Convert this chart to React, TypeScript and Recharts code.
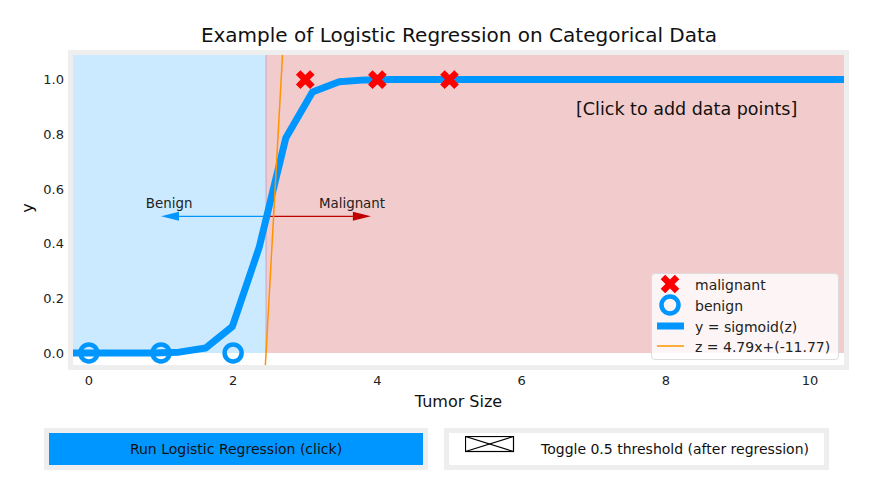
import React from "react";
import {
  ComposedChart,
  Line,
  Scatter,
  XAxis,
  YAxis,
  ReferenceArea,
  ReferenceLine,
  ReferenceDot,
  Legend,
  Label,
} from "recharts";

const FONT = '"DejaVu Sans", Verdana, sans-serif';
const BLUE = "#0096ff";
const RED = "#ff0000";
const DARKRED = "#c00000";
const ORANGE = "#ff9300";

// axes
const xDomain = [-0.22, 10.47];
const yDomain = [-0.044, 1.09];
const xTicks = [0, 2, 4, 6, 8, 10];
const yTicks = [0, 0.2, 0.4, 0.6, 0.8, 1.0];

// fitted sigmoid
const curveX = [
  -0.22, 0.15, 0.52, 0.89, 1.25, 1.62, 1.99, 2.36, 2.73, 3.1, 3.47, 3.83, 4.2,
  4.57, 4.94, 5.31, 5.68, 6.05, 6.42, 6.79, 7.16, 7.52, 7.89, 8.26, 8.63, 9.0,
  9.37, 9.74, 10.1, 10.47,
];
const curveY = [
  0, 0, 0, 0, 0.003, 0.018, 0.097, 0.385, 0.786, 0.955, 0.992, 0.999, 1, 1, 1,
  1, 1, 1, 1, 1, 1, 1, 1, 1, 1, 1, 1, 1, 1, 1,
];

// z = 4.79x + (-11.77)
const zLineX = [2.4, 2.8];
const zLineY = [-0.27, 1.64];

const malignantX = [3, 4, 5];
const malignantY = [1, 1, 1];
const benignX = [0, 1, 2];
const benignY = [0, 0, 0];

const threshold = 2.457;
const arrowY = 0.5;
const benignArrowEnd = 1.0;
const malignantArrowEnd = 3.91;
const annotationText = ["Benign", "Malignant"];
const annotationX = [0.79, 3.19];
const annotationY = [0.53, 0.53];

const zip = (xs: number[], ys: number[]) => xs.map((x, i) => ({ x, y: ys[i] }));

const curveData = zip(curveX, curveY);
const zLineData = zip(zLineX, zLineY);
const malignantData = zip(malignantX, malignantY);
const benignData = zip(benignX, benignY);

const xMarkerPoints = (cx: number, cy: number, a = 10, t = 3.2) => {
  const pts = [
    [t, -a], [t, -t], [a, -t], [a, t], [t, t], [t, a],
    [-t, a], [-t, t], [-a, t], [-a, -t], [-t, -t], [-t, -a],
  ];
  const c = Math.SQRT1_2;
  return pts.map(([x, y]) => `${cx + (x - y) * c},${cy + (x + y) * c}`).join(" ");
};

const arrowShape = (color: string) => (p: any) => {
  const { x1, y1, x2, y2 } = p;
  const dir = Math.sign(x2 - x1);
  const hl = 18;
  const hw = 4.5;
  return (
    <g>
      <line x1={x1} y1={y1} x2={x2 - dir * hl} y2={y2} stroke={color} strokeWidth={1.2} />
      <polygon
        points={`${x2},${y2} ${x2 - dir * hl},${y2 - hw} ${x2 - dir * hl},${y2 + hw}`}
        fill={color}
      />
    </g>
  );
};

const LegendBox = () => {
  const rows = ["malignant", "benign", "y = sigmoid(z)", "z = 4.79x+(-11.77)"];
  const rowY = [11, 32, 53, 73];
  return (
    <div
      style={{
        width: 188,
        height: 87,
        boxSizing: "border-box",
        background: "rgba(255,255,255,0.8)",
        border: "1px solid #dcdcdc",
        borderRadius: 4,
      }}
    >
      <svg width={186} height={85} style={{ display: "block" }}>
        <polygon points={xMarkerPoints(18, rowY[0] - 1)} fill={RED} />
        <circle cx={18} cy={rowY[1] - 1} r={8.5} fill="none" stroke={BLUE} strokeWidth={4.5} />
        <line x1={5} x2={32} y1={rowY[2] - 1} y2={rowY[2] - 1} stroke={BLUE} strokeWidth={7} />
        <line x1={5} x2={32} y1={rowY[3] - 1} y2={rowY[3] - 1} stroke={ORANGE} strokeWidth={1.5} />
        {rows.map((r, i) => (
          <text key={r} x={43} y={rowY[i] + 4.5} fontSize={14} fontFamily={FONT} fill="#222">
            {r}
          </text>
        ))}
      </svg>
    </div>
  );
};

export default function App() {
  return (
    <div
      style={{
        position: "absolute",
        left: 0,
        top: 0,
        width: 882,
        height: 478,
        background: "#fff",
        fontFamily: FONT,
      }}
    >
      <div
        style={{
          position: "absolute",
          left: 159,
          width: 600,
          top: 25,
          fontSize: 20,
          lineHeight: "20px",
          textAlign: "center",
          color: "#111",
          whiteSpace: "nowrap",
        }}
      >
        Example of Logistic Regression on Categorical Data
      </div>

      <div
        style={{
          position: "absolute",
          left: 68,
          top: 50,
          width: 781,
          height: 320,
          boxSizing: "border-box",
          border: "5px solid #eeeeee",
        }}
      />

      <div style={{ position: "absolute", left: 0, top: 0 }}>
        <ComposedChart
          width={882}
          height={478}
          margin={{ top: 55, right: 38, left: 33, bottom: 83 }}
        >
          <XAxis
            type="number"
            dataKey="x"
            domain={xDomain}
            ticks={xTicks}
            allowDataOverflow
            axisLine={false}
            tickLine={false}
            tickMargin={5}
            height={30}
            tick={{ fill: "#222", fontSize: 13, fontFamily: FONT }}
          >
            <Label
              value="Tumor Size"
              position="bottom"
              offset={1}
              style={{ fill: "#111", fontSize: 16, fontFamily: FONT }}
            />
          </XAxis>
          <YAxis
            type="number"
            dataKey="y"
            domain={yDomain}
            ticks={yTicks}
            allowDataOverflow
            axisLine={false}
            tickLine={false}
            tickMargin={3}
            width={40}
            tickFormatter={(v: number) => v.toFixed(1)}
            tick={{ fill: "#222", fontSize: 13, fontFamily: FONT }}
          >
            <Label
              content={(p: any) => {
                const vb = p.viewBox;
                const cx = vb.x - 6;
                const cy = vb.y + vb.height / 2 - 2;
                return (
                  <text
                    x={cx}
                    y={cy}
                    transform={`rotate(-90 ${cx} ${cy})`}
                    textAnchor="middle"
                    dominantBaseline="central"
                    fontSize={16}
                    fontFamily={FONT}
                    fill="#111"
                  >
                    y
                  </text>
                );
              }}
            />
          </YAxis>

          <ReferenceArea
            x1={xDomain[0]}
            x2={threshold}
            y1={0}
            y2={yDomain[1]}
            fill="#cceaff"
            fillOpacity={1}
            stroke="none"
          />
          <ReferenceArea
            x1={threshold}
            x2={xDomain[1]}
            y1={0}
            y2={yDomain[1]}
            fill="#f2cccc"
            fillOpacity={1}
            stroke="none"
          />
          <ReferenceLine
            segment={[
              { x: threshold, y: 0 },
              { x: threshold, y: yDomain[1] },
            ]}
            stroke="#c3a6c3"
            strokeWidth={1}
          />
          <ReferenceLine
            segment={[
              { x: threshold, y: arrowY },
              { x: benignArrowEnd, y: arrowY },
            ]}
            shape={arrowShape(BLUE)}
          />
          <ReferenceLine
            segment={[
              { x: threshold, y: arrowY },
              { x: malignantArrowEnd, y: arrowY },
            ]}
            shape={arrowShape(DARKRED)}
          />
          {annotationText.map((t, i) => (
            <ReferenceDot
              key={t}
              x={annotationX[i]}
              y={annotationY[i]}
              shape={(p: any) => (
                <text x={p.cx} y={p.cy} fontSize={13.4} fontFamily={FONT} fill="#222">
                  {t}
                </text>
              )}
            />
          ))}

          <Line
            data={curveData}
            dataKey="y"
            name="y = sigmoid(z)"
            stroke={BLUE}
            strokeWidth={7}
            strokeLinejoin="round"
            dot={false}
            isAnimationActive={false}
          />
          <Line
            data={zLineData}
            dataKey="y"
            name="z = 4.79x+(-11.77)"
            stroke={ORANGE}
            strokeWidth={1.5}
            dot={false}
            isAnimationActive={false}
          />
          <Scatter
            data={malignantData}
            dataKey="y"
            name="malignant"
            fill={RED}
            isAnimationActive={false}
            shape={(p: any) => <polygon points={xMarkerPoints(p.cx, p.cy)} fill={RED} />}
          />
          <Scatter
            data={benignData}
            dataKey="y"
            name="benign"
            fill={BLUE}
            isAnimationActive={false}
            shape={(p: any) => (
              <circle cx={p.cx} cy={p.cy} r={8.5} fill="none" stroke={BLUE} strokeWidth={4.5} />
            )}
          />
          <Legend
            layout="horizontal"
            verticalAlign="middle"
            align="center"
            content={() => <LegendBox />}
            wrapperStyle={{ left: 651, top: 273, width: 188, height: 87 }}
          />
        </ComposedChart>
      </div>

      <div
        style={{
          position: "absolute",
          left: 576,
          top: 101,
          fontSize: 17.5,
          lineHeight: "17.5px",
          color: "#111",
          whiteSpace: "nowrap",
        }}
      >
        [Click to add data points]
      </div>

      <div
        style={{
          position: "absolute",
          left: 44,
          top: 428,
          width: 384,
          height: 42,
          boxSizing: "border-box",
          border: "5px solid #eeeeee",
        }}
      >
        <div
          style={{
            width: "100%",
            height: "100%",
            background: BLUE,
            display: "flex",
            alignItems: "center",
            justifyContent: "center",
            fontSize: 14,
            color: "#111",
          }}
        >
          Run Logistic Regression (click)
        </div>
      </div>

      <div
        style={{
          position: "absolute",
          left: 444,
          top: 428,
          width: 385,
          height: 42,
          boxSizing: "border-box",
          border: "5px solid #eeeeee",
          background: "#fff",
        }}
      >
        <svg
          width={50}
          height={18}
          style={{ position: "absolute", left: 16, top: 3 }}
        >
          <rect x={0.5} y={0.5} width={48} height={15} fill="none" stroke="#000" strokeWidth={1.2} />
          <line x1={0.5} y1={0.5} x2={48.5} y2={15.5} stroke="#000" strokeWidth={1.2} />
          <line x1={0.5} y1={15.5} x2={48.5} y2={0.5} stroke="#000" strokeWidth={1.2} />
        </svg>
        <div
          style={{
            position: "absolute",
            left: 92,
            top: 0,
            height: 32,
            display: "flex",
            alignItems: "center",
            fontSize: 14,
            color: "#111",
            whiteSpace: "nowrap",
          }}
        >
          Toggle 0.5 threshold (after regression)
        </div>
      </div>
    </div>
  );
}
